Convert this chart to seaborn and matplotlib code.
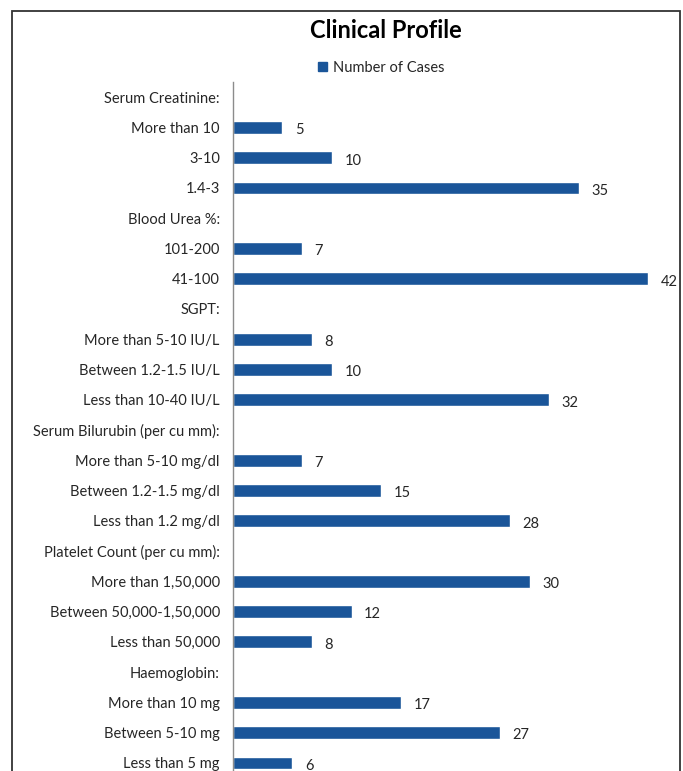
import numpy as np
import pandas as pd
import matplotlib
matplotlib.use("Agg")
import matplotlib.pyplot as plt
from matplotlib.patches import Rectangle
import seaborn as sns

categories = ["Serum Creatinine:", "More than 10", "3-10", "1.4-3",
              "Blood Urea %:", "101-200", "41-100",
              "SGPT:", "More than 5-10 IU/L", "Between 1.2-1.5 IU/L", "Less than 10-40 IU/L",
              "Serum Bilurubin (per cu mm):", "More than 5-10 mg/dl", "Between 1.2-1.5 mg/dl",
              "Less than 1.2 mg/dl",
              "Platelet Count (per cu mm):", "More than 1,50,000", "Between 50,000-1,50,000",
              "Less than 50,000",
              "Haemoglobin:", "More than 10 mg", "Between 5-10 mg", "Less than 5 mg"]
cases = [np.nan, 5, 10, 35,
         np.nan, 7, 42,
         np.nan, 8, 10, 32,
         np.nan, 7, 15, 28,
         np.nan, 30, 12, 8,
         np.nan, 17, 27, 6]
series_name = "Number of Cases"
title = "Clinical Profile"

df = pd.DataFrame({"Category": categories, series_name: cases})

sns.set_theme(style="white")
plt.rcParams["font.family"] = ["Lato", "DejaVu Sans"]

W, H = 683, 771
fig = plt.figure(figsize=(W / 100, H / 100), dpi=100)
fig.patch.set_facecolor("white")

ax_left, ax_right = 233, 668
ax_top, ax_bottom = 82, 778
ax = fig.add_axes([ax_left / W, 1 - ax_bottom / H, (ax_right - ax_left) / W, (ax_bottom - ax_top) / H])

bar_color = "#1a5599"
sns.barplot(data=df, x=series_name, y="Category", order=categories, orient="h",
            color=bar_color, width=0.42, ax=ax, saturation=1, legend=False)

ax.set_xlim(0, 44)
ax.set_ylim(len(categories) - 0.5, -0.5)
ax.set_xlabel("")
ax.set_ylabel("")
ax.set_xticks([])
for s in ["top", "right", "bottom"]:
    ax.spines[s].set_visible(False)
ax.spines["left"].set_color("#8c8c8c")
ax.spines["left"].set_linewidth(1.0)
ax.tick_params(axis="y", length=0, pad=9.5, labelsize=10.5, labelcolor="#262626")

for i, v in enumerate(cases):
    if not np.isnan(v):
        ax.annotate(f"{int(v)}", xy=(v, i), xytext=(9, -1), textcoords="offset points",
                    va="center_baseline", ha="left", fontsize=10.5, color="#262626")

fig.text(386 / W, 1 - 31 / H, title, ha="center", va="center",
         fontsize=17, fontweight="bold", color="black")

leg = fig.legend(handles=[Rectangle((0, 0), 1, 1, color=bar_color)], labels=[series_name],
                 loc="center", bbox_to_anchor=(381 / W, 1 - 68 / H), frameon=False,
                 fontsize=10.5, handlelength=0.6, handleheight=0.6, handletextpad=0.4)
for t in leg.get_texts():
    t.set_color("#262626")

# chart border (bottom edge runs beyond the crop)
fig.patches.append(Rectangle((12 / W, -0.05), (680 - 12) / W, 1.05 - 11 / H,
                             transform=fig.transFigure, fill=False,
                             edgecolor="#333333", linewidth=1.3))

fig.savefig("out.png", dpi=100)
